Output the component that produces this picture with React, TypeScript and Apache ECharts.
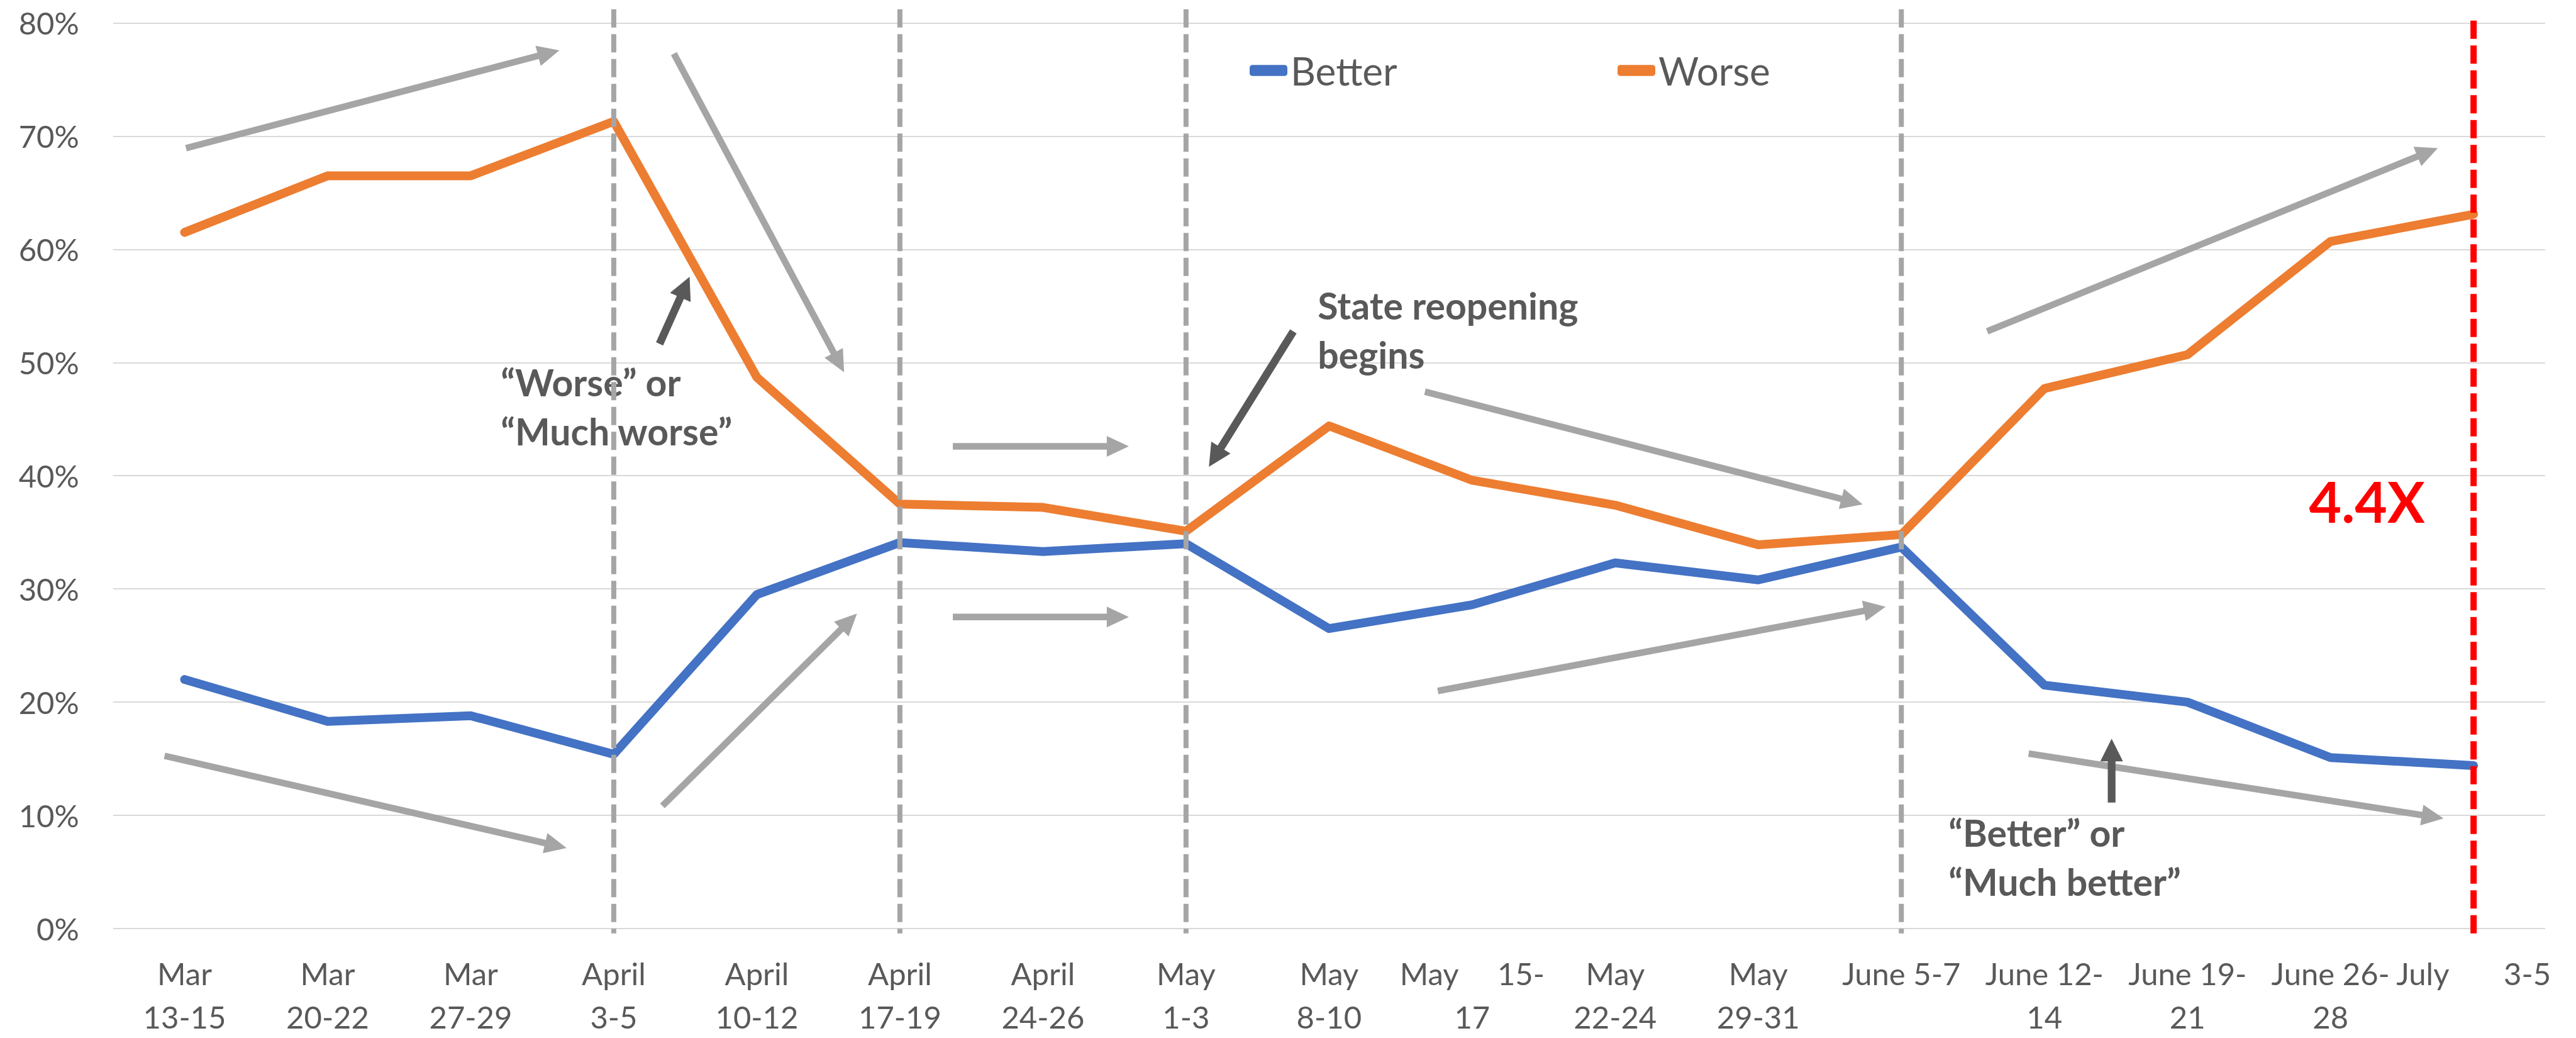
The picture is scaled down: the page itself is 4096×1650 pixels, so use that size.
import React, { useEffect, useRef } from 'react';
import * as echarts from 'echarts';

const W = 4096;
const H = 1650;
const S = W / 4671;

const NB = '\u00A0';

// Survey waves (x axis)
const categories = [
  'Mar\n13-15',
  'Mar\n20-22',
  'Mar\n27-29',
  'April\n3-5',
  'April\n10-12',
  'April\n17-19',
  'April\n24-26',
  'May\n1-3',
  'May\n8-10',
  `May${NB.repeat(5)}15-\n17`,
  'May\n22-24',
  'May\n29-31',
  'June 5-7',
  'June 12-\n14',
  'June 19-\n21',
  'June 26-\n28',
  `July${NB.repeat(7)}3-5`,
];

// Share of respondents (%)
const better = [22.0, 18.3, 18.8, 15.4, 29.5, 34.1, 33.3, 34.0, 26.5, 28.6, 32.3, 30.8, 33.7, 21.5, 20.0, 15.1, 14.4];
const worse = [61.5, 66.5, 66.5, 71.3, 48.7, 37.5, 37.2, 35.1, 44.4, 39.6, 37.4, 33.9, 34.8, 47.7, 50.7, 60.7, 63.1];

// Y axis
const yMin = 0;
const yMax = 80;
const yStep = 10;

// Phase boundaries (category index) and the latest wave
const phaseMarkers = [3, 5, 7, 12];
const phaseTop = 81.2;
const latestIndex = 16;
const latestTop = 80.2;

// Trend arrows in [category index, %] space: [tail, tip]
const trendArrows: [number, number][][] = [
  [[0.01, 69.0], [2.62, 77.6]],
  [[3.42, 77.3], [4.61, 49.3]],
  [[-0.14, 15.6], [2.67, 7.5]],
  [[3.34, 11.2], [4.70, 28.1]],
  [[5.37, 42.8], [6.6, 42.8]],
  [[5.37, 27.8], [6.6, 27.8]],
  [[8.67, 47.6], [11.73, 37.7]],
  [[8.76, 21.3], [11.89, 28.7]],
  [[12.6, 52.9], [15.75, 69.0]],
  [[12.89, 15.8], [15.79, 10.1]],
];

// Pointer arrows attached to the call-outs
const pointerArrows: [number, number][][] = [
  [[3.32, 51.8], [3.53, 57.7]],
  [[7.75, 52.9], [7.16, 41.0]],
  [[13.47, 11.5], [13.47, 17.1]],
];

// Call-outs: left edge and first-line baseline in [category index, %]
const callouts = [
  { text: '“Worse” or\n“Much worse”', at: [2.21, 47.2] },
  { text: 'State reopening\nbegins', at: [7.92, 53.9] },
  { text: '“Better” or\n“Much better”', at: [12.33, 7.6] },
];
const ratioAt = [14.85, 36.1];

const BLUE = '#4472C4';
const ORANGE = '#ED7D31';
const GRAY = '#A5A5A5';
const DARK = '#595959';
const TEXT = '#595959';
const RED = '#FF0000';

const GRID = {
  left: 205 * S,
  top: 41.6 * S,
  right: W - 4615 * S,
  bottom: H - 1692 * S,
};
const plotW = W - GRID.left - GRID.right;
const plotH = H - GRID.top - GRID.bottom;

const xPx = (i: number) => GRID.left + ((i + 0.5) * plotW) / categories.length;
const yPx = (v: number) => GRID.top + (1 - (v - yMin) / (yMax - yMin)) * plotH;

function arrow(
  tail: [number, number],
  tip: [number, number],
  color: string,
  width: number,
  headLen: number,
  headW: number,
) {
  const x1 = xPx(tail[0]);
  const y1 = yPx(tail[1]);
  const x2 = xPx(tip[0]);
  const y2 = yPx(tip[1]);
  const len = Math.hypot(x2 - x1, y2 - y1);
  const ux = (x2 - x1) / len;
  const uy = (y2 - y1) / len;
  const bx = x2 - ux * headLen;
  const by = y2 - uy * headLen;
  const nx = -uy;
  const ny = ux;
  return [
    {
      type: 'line',
      silent: true,
      z: 5,
      shape: { x1, y1, x2: bx + ux * 2, y2: by + uy * 2 },
      style: { stroke: color, lineWidth: width, lineCap: 'butt' },
    },
    {
      type: 'polygon',
      silent: true,
      z: 5,
      shape: {
        points: [
          [x2, y2],
          [bx + (nx * headW) / 2, by + (ny * headW) / 2],
          [bx - (nx * headW) / 2, by - (ny * headW) / 2],
        ],
      },
      style: { fill: color },
    },
  ];
}

// Vertical dashed marker at a category, drawn from its top down to 0%
function marker(index: number, top: number, color: string, width: number) {
  const x = xPx(index);
  return {
    type: 'line',
    silent: true,
    z: 20,
    shape: { x1: x, y1: yPx(top), x2: x, y2: yPx(0) },
    style: { stroke: color, lineWidth: width, lineDash: [29, 10.5], lineCap: 'butt' },
  };
}

// Place a text block so that its first baseline lands on the given point
function textBlock(
  text: string,
  at: number[],
  size: number,
  lineHeight: number,
  color: string,
) {
  const top = yPx(at[1]) - lineHeight / 2 - 0.387 * size;
  return {
    type: 'text',
    silent: true,
    z: 6,
    x: xPx(at[0]),
    y: top,
    style: {
      text,
      fill: color,
      fontFamily: 'Lato',
      fontWeight: 'bold',
      fontSize: size,
      lineHeight,
      align: 'left',
      verticalAlign: 'top',
    },
  };
}

export default function App() {
  const ref = useRef<HTMLDivElement>(null);

  useEffect(() => {
    if (!ref.current) return;
    const chart = echarts.init(ref.current, undefined, { renderer: 'svg', width: W, height: H });

    const graphics: any[] = [];
    trendArrows.forEach(([a, b]) => graphics.push(...arrow(a, b, GRAY, 10.5, 35, 33)));
    pointerArrows.forEach(([a, b]) => graphics.push(...arrow(a, b, DARK, 12.3, 36, 36)));
    callouts.forEach((c) => graphics.push(textBlock(c.text, c.at, 59, 78, DARK)));
    const ratio = worse[latestIndex] / better[latestIndex];
    graphics.push(textBlock(`${ratio.toFixed(1)}X`, ratioAt, 89, 100, RED));
    phaseMarkers.forEach((i) => graphics.push(marker(i, phaseTop, GRAY, 8)));
    graphics.push(marker(latestIndex, latestTop, RED, 10));

    const legendBase = {
      top: 81,
      padding: 0,
      icon: 'roundRect',
      itemWidth: 60,
      itemHeight: 17.5,
      selectedMode: false,
      textStyle: { color: TEXT, fontFamily: 'Lato', fontSize: 62, lineHeight: 62 },
    };

    chart.setOption({
      animation: false,
      backgroundColor: '#FFFFFF',
      textStyle: { fontFamily: 'Lato' },
      grid: { ...GRID, containLabel: false },
      legend: [
        { ...legendBase, left: 1987, data: ['Better'] },
        { ...legendBase, left: 2572, data: ['Worse'] },
      ],
      xAxis: {
        type: 'category',
        data: categories,
        boundaryGap: true,
        axisLine: { show: false },
        axisTick: { show: false },
        axisLabel: {
          interval: 0,
          margin: 36,
          color: TEXT,
          fontFamily: 'Lato',
          fontSize: 49,
          lineHeight: 69,
        },
      },
      yAxis: {
        type: 'value',
        min: yMin,
        max: yMax,
        interval: yStep,
        axisLine: { show: false },
        axisTick: { show: false },
        axisLabel: {
          margin: 54,
          color: TEXT,
          fontFamily: 'Lato',
          fontSize: 49,
          formatter: '{value}%',
        },
        splitLine: { lineStyle: { color: '#D9D9D9', width: 2 } },
      },
      graphic: graphics,
      series: [
        {
          name: 'Better',
          type: 'line',
          data: better,
          showSymbol: false,
          symbol: 'none',
          color: BLUE,
          lineStyle: { color: BLUE, width: 14, cap: 'round', join: 'round' },
          z: 3,
        },
        {
          name: 'Worse',
          type: 'line',
          data: worse,
          showSymbol: false,
          symbol: 'none',
          color: ORANGE,
          lineStyle: { color: ORANGE, width: 14, cap: 'round', join: 'round' },
          z: 3,
        },
      ],
    });

    return () => chart.dispose();
  }, []);

  return (
    <div
      ref={ref}
      style={{ position: 'fixed', left: 0, top: 0, width: W, height: H, background: '#FFFFFF' }}
    />
  );
}
